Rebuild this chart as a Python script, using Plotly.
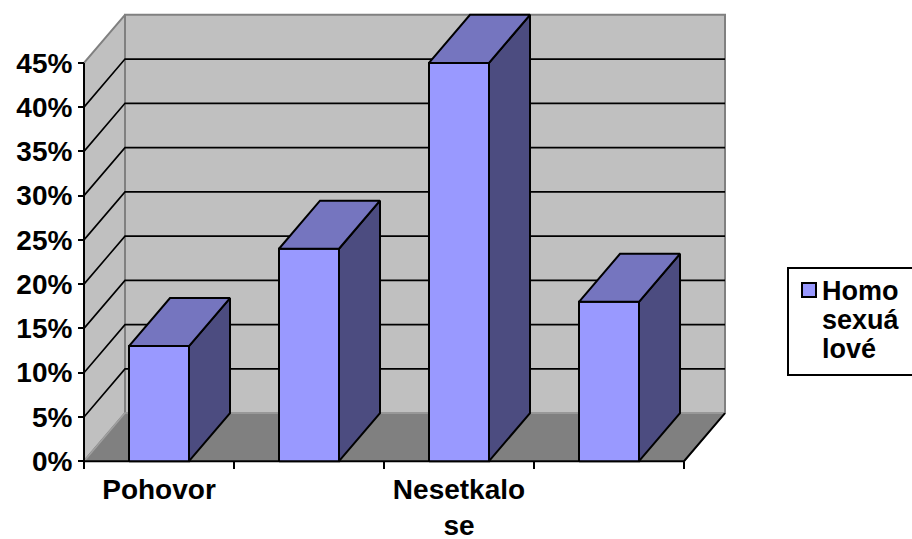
import numpy as np
import plotly.graph_objects as go

# ---------------- data ----------------
categories = ["Pohovor", "", "Nesetkalo se", ""]
tick_labels = ["Pohovor", "", "Nesetkalo<br>se", ""]
values = [13, 24, 45, 18]          # percent
series_name = "Homosexuálové"
legend_lines = ["Homo", "sexuá", "lové"]
y_ticks = [0, 5, 10, 15, 20, 25, 30, 35, 40, 45]
y_tick_labels = [f"{v}%" for v in y_ticks]

# ---------------- style / geometry ----------------
W, H = 912, 539
PX_CAT = 150.0          # pixels per category slot
PX_PCT = 8.844          # pixels per percent
DX = 41 / PX_CAT        # depth offset (category units)
DY = 48 / PX_PCT        # depth offset (percent units)
BAR_HALF = 0.2
PADX, PADY = 0.06, 1.0
ORIGIN = (84, 461)
YMAX = max(y_ticks)
FONT = "Arial, 'Liberation Sans', sans-serif"

FRONT, TOP, SIDE = "#9999FF", "#7575BF", "#4C4C80"
WALL, FLOOR, EDGE = "#C0C0C0", "#808080", "#808080"

n = len(values)
x_lo, x_hi = -0.5 - PADX, n - 0.5 + DX + PADX
y_lo, y_hi = -PADY, YMAX + DY + PADY
plot_w = (x_hi - x_lo) * PX_CAT
plot_h = (y_hi - y_lo) * PX_PCT
m_l = ORIGIN[0] - PADX * PX_CAT
m_b = H - ORIGIN[1] - PADY * PX_PCT
m_t = H - m_b - plot_h
m_r = W - m_l - plot_w

fig = go.Figure()


def poly(xs, ys, fill=None, line="black", lw=1.5):
    fig.add_trace(go.Scatter(
        x=list(xs), y=list(ys), mode="lines",
        fill="toself" if fill else None, fillcolor=fill,
        line=dict(color=line, width=lw), hoverinfo="skip", showlegend=False))


xl, xr = -0.5, n - 0.5
# back wall
poly([xl + DX, xr + DX, xr + DX, xl + DX, xl + DX],
     [DY, DY, YMAX + DY, YMAX + DY, DY], WALL, EDGE, 2)
# left wall
poly([xl, xl, xl + DX, xl + DX, xl], [0, YMAX, YMAX + DY, DY, 0], WALL, EDGE, 2)
# floor
poly([xl, xr, xr + DX, xl + DX, xl], [0, 0, DY, DY, 0], FLOOR, "#A0A0A0", 1.5)

# gridlines
gx, gy = [], []
for v in y_ticks[1:-1]:
    gx += [xl, xl + DX, xr + DX, None]
    gy += [v, v + DY, v + DY, None]
poly(gx, gy, None, "black", 1.6)

# axis lines (front-left vertical edge, floor front and right edges)
poly([xl, xl], [0, YMAX], None, "black", 2)
poly([xl, xr, xr + DX], [0, 0, DY], None, "black", 2)

# bars
for i, v in enumerate(values):
    x0, x1 = i - BAR_HALF, i + BAR_HALF
    poly([x1, x1 + DX, x1 + DX, x1, x1], [0, DY, v + DY, v, 0], SIDE, "black", 2)
    poly([x0, x0, x1, x1, x0], [0, v, v, 0, 0], FRONT, "black", 2)
    poly([x0, x1, x1 + DX, x0 + DX, x0], [v, v, v + DY, v + DY, v], TOP, "black", 2)

tickfont = dict(family=FONT, size=28, color="black", weight="bold")

fig.update_layout(
    width=W, height=H,
    margin=dict(l=m_l, r=m_r, t=m_t, b=m_b, pad=0, autoexpand=False),
    paper_bgcolor="white", plot_bgcolor="white",
    showlegend=False,
    xaxis=dict(range=[x_lo, x_hi], anchor="free", position=PADY / (y_hi - y_lo),
               showgrid=False, zeroline=False, showline=False,
               tickmode="array", tickvals=list(range(n)), ticktext=tick_labels,
               ticks="outside", ticklen=3, tickcolor="rgba(0,0,0,0)",
               tickfont=tickfont,
               minor=dict(tickmode="array", tickvals=[k - 0.5 for k in range(n + 1)],
                          ticks="outside", ticklen=7, tickwidth=2, tickcolor="black",
                          showgrid=False)),
    yaxis=dict(range=[y_lo, y_hi], anchor="free", position=PADX / (x_hi - x_lo),
               showgrid=False, zeroline=False, showline=False,
               tickmode="array", tickvals=y_ticks, ticktext=y_tick_labels,
               ticks="outside", ticklen=6, tickwidth=2, tickcolor="black",
               tickfont=tickfont),
)


# legend (drawn manually, partly outside the page as in the reference)
def px2paper(px, py):
    return (px - m_l) / plot_w, (H - m_b - py) / plot_h


lx0, ly0 = px2paper(788, 268)
lx1, ly1 = px2paper(940, 375)
fig.add_shape(type="rect", xref="paper", yref="paper", x0=lx0, y0=ly1, x1=lx1, y1=ly0,
              line=dict(color="black", width=2), fillcolor="white")
sx0, sy0 = px2paper(802, 283)
sx1, sy1 = px2paper(816, 297)
fig.add_shape(type="rect", xref="paper", yref="paper", x0=sx0, y0=sy1, x1=sx1, y1=sy0,
              line=dict(color="black", width=2), fillcolor=FRONT)
for k, (txt, cy) in enumerate(zip(legend_lines, [291, 320, 349])):
    tx, ty = px2paper(820, cy)
    fig.add_annotation(xref="paper", yref="paper", x=tx, y=ty, xanchor="left",
                       yanchor="middle", text=txt, showarrow=False, align="left",
                       font=dict(family=FONT, size=27, color="black", weight="bold"))

fig.write_html("out.html")
